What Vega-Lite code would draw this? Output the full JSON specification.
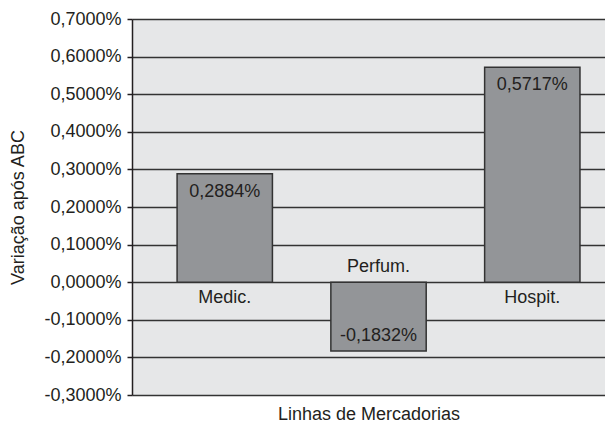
{
  "$schema": "https://vega.github.io/schema/vega-lite/v6.json",
  "width": 473,
  "height": 376,
  "autosize": {"type": "none"},
  "padding": {"left": 132, "top": 19, "right": 0, "bottom": 34},
  "background": "white",
  "config": {
    "locale": {"number": {"decimal": ",", "thousands": ".", "grouping": [3], "currency": ["R$", ""], "minus": "-"}},
    "font": "Liberation Sans",
    "view": {"fill": "#e6e7e8", "stroke": null},
    "axis": {"labelFont": "Liberation Sans", "titleFont": "Liberation Sans", "labelColor": "#231f20", "titleColor": "#231f20", "titleFontWeight": "normal"}
  },
  "data": {
    "values": [
      {"linha": "Medic.", "v": 0.002884},
      {"linha": "Perfum.", "v": -0.001832},
      {"linha": "Hospit.", "v": 0.005717}
    ]
  },
  "encoding": {
    "x": {
      "field": "linha", "type": "nominal", "sort": null,
      "scale": {"paddingInner": 0.38, "paddingOuter": 0.228, "align": 0.643},
      "axis": {"labels": false, "ticks": false, "domain": false, "grid": false, "title": "Linhas de Mercadorias", "titleFontSize": 18, "titlePadding": 10}
    },
    "y": {
      "field": "v", "type": "quantitative",
      "scale": {"domain": [-0.003, 0.007], "nice": false},
      "axis": {
        "tickCount": 10,
        "format": ".4%", "labelFontSize": 18, "labelPadding": 6, "labelOverlap": false,
        "tickSize": 5, "tickColor": "#231f20", "tickWidth": 1.5,
        "domainColor": "#231f20", "domainWidth": 1.5,
        "gridColor": "#333333", "gridWidth": 1.5, "gridOpacity": 1,
        "title": "Variação após ABC", "titleFontSize": 18, "titlePadding": 16
      }
    }
  },
  "layer": [
    {
      "mark": {"type": "bar", "fill": "#939598", "stroke": "#333333", "strokeWidth": 1.5}
    },
    {
      "transform": [{"filter": "datum.v > 0"}],
      "mark": {"type": "text", "baseline": "middle", "dy": 18, "fontSize": 18, "color": "#231f20"},
      "encoding": {"text": {"field": "v", "type": "quantitative", "format": ".4%"}}
    },
    {
      "transform": [{"filter": "datum.v < 0"}],
      "mark": {"type": "text", "baseline": "middle", "dy": -15, "fontSize": 18, "color": "#231f20"},
      "encoding": {"text": {"field": "v", "type": "quantitative", "format": ".4%"}}
    },
    {
      "transform": [{"filter": "datum.v > 0"}],
      "mark": {"type": "text", "baseline": "middle", "dy": 16, "fontSize": 18, "color": "#231f20"},
      "encoding": {"y": {"datum": 0, "type": "quantitative"}, "text": {"field": "linha"}}
    },
    {
      "transform": [{"filter": "datum.v < 0"}],
      "mark": {"type": "text", "baseline": "middle", "dy": -15, "fontSize": 18, "color": "#231f20"},
      "encoding": {"y": {"datum": 0, "type": "quantitative"}, "text": {"field": "linha"}}
    }
  ]
}
